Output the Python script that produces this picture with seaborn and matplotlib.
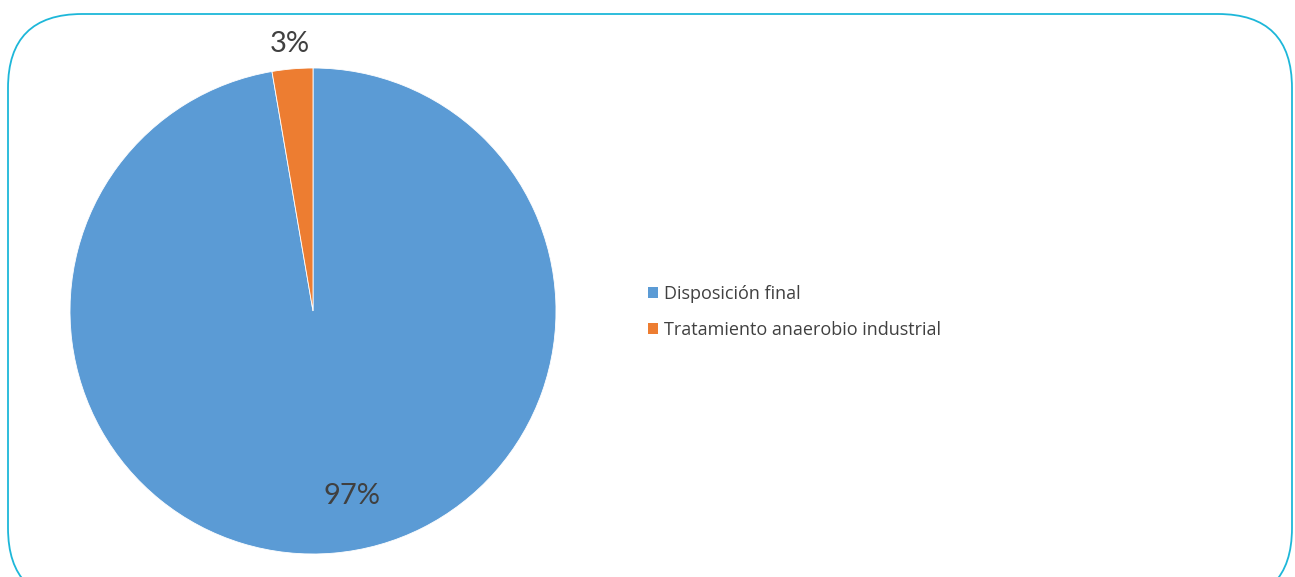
import matplotlib
matplotlib.use("Agg")
import matplotlib.pyplot as plt
import seaborn as sns
from matplotlib.patches import FancyBboxPatch, Patch

sns.set_theme(style="white")
plt.rcParams['font.family'] = ['Lato', 'DejaVu Sans']

# data
categories = ["Disposición final", "Tratamiento anaerobio industrial"]
shares = [97.3, 2.7]
colors = ["#5B9BD5", "#ED7D31"]

fig = plt.figure(figsize=(12.95, 5.77), dpi=100)
fig.patch.set_facecolor("white")

# rounded frame around the chart
frame = FancyBboxPatch((0.08, -0.25), 12.84, 5.88,
                       boxstyle="round,pad=0,rounding_size=0.74",
                       transform=fig.dpi_scale_trans, fill=False,
                       edgecolor="#1DB7D9", linewidth=1.3, clip_on=False)
fig.patches.append(frame)

ax = fig.add_axes([70 / 1295, 23 / 577, 486 / 1295, 486 / 577])
wedges, _, autotexts = ax.pie(shares, colors=colors, startangle=90,
                              counterclock=False, autopct="%.0f%%",
                              wedgeprops=dict(edgecolor="white", linewidth=0.6),
                              textprops=dict(color="#404040", fontsize=21))
ax.set_xlim(-1, 1)
ax.set_ylim(-1, 1)
ax.set_aspect("equal")
ax.axis("off")

# label placement like the original (big slice inside, small one outside)
autotexts[0].set_position((0.16, -0.76))
autotexts[1].set_position((-0.095, 1.10))

handles = [Patch(facecolor=c, edgecolor="none") for c in colors]
fig.legend(handles, categories, loc="center left",
           bbox_to_anchor=(632 / 1295, 1 - 312 / 577), frameon=False,
           prop=dict(family=['Open Sans', 'DejaVu Sans'], size=13),
           handlelength=0.55, handleheight=0.55,
           handletextpad=0.3, labelspacing=1.0, labelcolor="#404040")

fig.savefig("out.png", dpi=100, facecolor="white")
